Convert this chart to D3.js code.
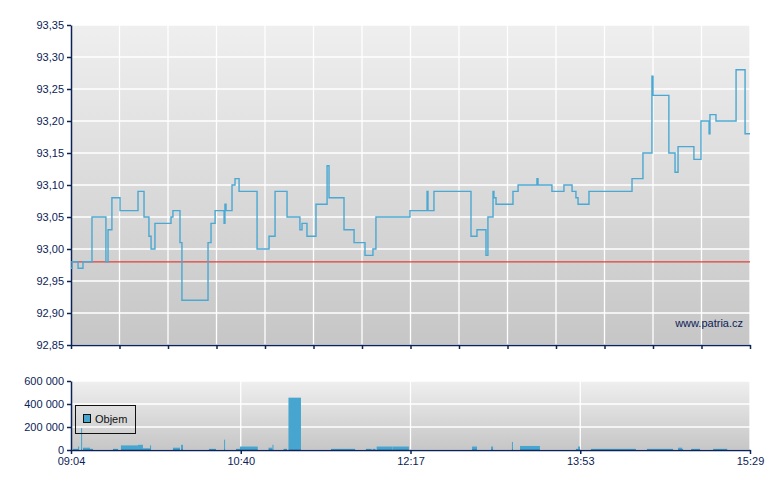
<!DOCTYPE html>
<html><head><meta charset="utf-8">
<script src="https://cdn.jsdelivr.net/npm/d3@7"></script>
<style>body{margin:0;background:#fff}svg{font-family:"Liberation Sans",Arial,sans-serif}</style>
</head><body><svg id="c" width="780" height="490"></svg>
<script>
// minutes after 09:04
const priceMin = [0,0.6,4,6.8,11.9,19.8,21,23.2,27.8,38,41.4,44.2,45.4,47.6,56.7,57.8,61.8,62.9,77.7,79.4,81.7,86.8,87.3,87.9,91.3,93,95.3,105.5,112.3,115.7,122.5,129.8,131,133.8,138.9,145.2,146.3,154.8,160.5,166.7,171.2,172.9,192.2,201.9,202.4,205.8,226.8,230.2,235.3,236.4,239.3,239.8,241,250.6,253.5,264.2,264.8,272.7,279.5,284.1,286.3,287.5,293.7,318.1,324.3,329.4,330,339,342.5,344.2,353.2,357.2,361.8,362.3,365.7,377.1,382.2,385];
const priceVal = [92.97,92.98,92.97,92.98,93.05,92.98,93.03,93.08,93.06,93.09,93.05,93.02,93.00,93.04,93.05,93.06,93.01,92.92,93.01,93.04,93.06,93.04,93.07,93.06,93.10,93.11,93.09,93.00,93.02,93.09,93.05,93.03,93.04,93.02,93.07,93.13,93.08,93.03,93.01,92.99,93.00,93.05,93.06,93.09,93.06,93.09,93.02,93.03,92.99,93.05,93.09,93.08,93.07,93.09,93.10,93.11,93.10,93.09,93.10,93.09,93.08,93.07,93.09,93.11,93.15,93.27,93.24,93.15,93.12,93.16,93.14,93.20,93.18,93.21,93.20,93.28,93.18,93.18];
const refPrice = 92.98;
const volStart = [1.1,4,5.7,6.8,10.8,23.8,28.3,38,40.8,44.8,57.8,62.4,78.2,86.8,93.6,95.8,112,114.2,120.5,123.3,147.4,167.2,171,173.3,182.3,227.4,238.2,250,254.6,286.3,287.5,294.8,326.6,344.2,346.5,351.6,364.1];
const volEnd   = [4,4.6,6.3,10.8,12.5,26.7,38,40.8,44.8,45.4,61.8,63.5,82.2,87.3,95.8,105.9,114.2,114.8,122.5,130.4,161.1,170.5,172.7,182.3,191.6,230.2,239.3,250.6,265.9,287.5,288.6,320.3,341.4,346.5,346.8,356.7,372.1];
const volVal   = [10000,30000,190000,20000,10000,10000,40000,45000,15000,40000,20000,45000,10000,90000,10000,30000,20000,45000,10000,455000,10000,10000,10000,30000,30000,30000,30000,70000,35000,10000,30000,10000,10000,20000,10000,10000,10000];
const priceTicks = [92.85,92.90,92.95,93.00,93.05,93.10,93.15,93.20,93.25,93.30,93.35];
const volTicks = [0,200000,400000,600000];
const timeLabels = ["09:04","10:40","12:17","13:53","15:29"];

const svg = d3.select("#c");
const L=71,R=750,T=25,B=345,VT=381,VB=450;
const navy="#0b2357", lineC="#4aa8d2";
const x = d3.scaleLinear().domain([0,385]).range([L,R]);
const y = d3.scaleLinear().domain([92.85,93.35]).range([B,T]);
const yv = d3.scaleLinear().domain([0,600000]).range([VB,VT]);
const defs = svg.append("defs");
const g = defs.append("linearGradient").attr("id","bg").attr("x1",0).attr("x2",0).attr("y1",0).attr("y2",1);
g.append("stop").attr("offset",0).attr("stop-color","#efefef");
g.append("stop").attr("offset",1).attr("stop-color","#c6c6c6");
svg.append("rect").attr("x",L).attr("y",T).attr("width",R-L).attr("height",B-T).attr("fill","url(#bg)");
svg.append("rect").attr("x",L).attr("y",VT).attr("width",R-L).attr("height",VB-VT).attr("fill","url(#bg)");
const fmt = v=>v.toFixed(2).replace(".",",");
// main grid
const gx = d3.range(15).map(i=>i*385/14);
svg.selectAll(".vg").data(gx).join("line").attr("x1",d=>x(d)).attr("x2",d=>x(d)).attr("y1",T).attr("y2",B).attr("stroke","#fff").attr("stroke-width",1.3);
svg.selectAll(".hg").data(priceTicks).join("line").attr("x1",L).attr("x2",R).attr("y1",d=>y(d)).attr("y2",d=>y(d)).attr("stroke","#fff").attr("stroke-width",1.3);
const ya = svg.append("g").attr("transform",`translate(${L},0)`).call(d3.axisLeft(y).tickValues(priceTicks).tickFormat(fmt).tickSize(4).tickSizeOuter(0));
const xa = svg.append("g").attr("transform",`translate(0,${B})`).call(d3.axisBottom(x).tickValues(gx).tickFormat("").tickSize(4).tickSizeOuter(0));
svg.append("line").attr("x1",L).attr("x2",R).attr("y1",y(refPrice)).attr("y2",y(refPrice)).attr("stroke","#e0403a").attr("stroke-width",1.2);
const pts = priceMin.map((m,i)=>[m,priceVal[i]]);
svg.append("path").datum(pts).attr("fill","none").attr("stroke",lineC).attr("stroke-width",1.4)
  .attr("d",d3.line().x(d=>x(d[0])).y(d=>y(d[1])).curve(d3.curveStepAfter));
svg.append("text").attr("x",743).attr("y",327).attr("text-anchor","end").attr("font-size",11).attr("fill",navy).text("www.patria.cz");
// volume
const tv = d3.range(5).map(i=>i*385/4);
svg.selectAll(".vvg").data(tv).join("line").attr("x1",d=>x(d)).attr("x2",d=>x(d)).attr("y1",VT).attr("y2",VB).attr("stroke","#fff").attr("stroke-width",1.3);
svg.selectAll(".vhg").data(volTicks).join("line").attr("x1",L).attr("x2",R).attr("y1",d=>yv(d)).attr("y2",d=>yv(d)).attr("stroke","#fff").attr("stroke-width",1.3);
svg.selectAll(".bar").data(volVal).join("rect").attr("x",(d,i)=>x(volStart[i])).attr("width",(d,i)=>Math.max(1,x(volEnd[i])-x(volStart[i])))
  .attr("y",d=>yv(d)).attr("height",d=>VB-yv(d)).attr("fill","#47a6d0");
const vfmt = v=>v===0?"0":d3.format(",")(v).replace(/,/g," ");
svg.append("g").attr("transform",`translate(${L},0)`).call(d3.axisLeft(yv).tickValues(volTicks).tickFormat(vfmt).tickSize(4).tickSizeOuter(0));
svg.append("g").attr("transform",`translate(0,${VB})`).call(d3.axisBottom(x).tickValues(tv).tickFormat((d,i)=>timeLabels[i]).tickSize(4).tickSizeOuter(0));
svg.selectAll(".domain, .tick line").attr("stroke",navy).attr("stroke-width",1.5);
svg.selectAll(".tick text").attr("fill",navy).attr("font-size",11).attr("font-family","Liberation Sans, Arial, sans-serif");
// legend
svg.append("rect").attr("x",75.5).attr("y",405.5).attr("width",60).attr("height",28).attr("fill","none").attr("stroke","#111");
svg.append("rect").attr("x",83.5).attr("y",414.5).attr("width",7).attr("height",8).attr("fill","#47a6d0").attr("stroke","#111");
svg.append("text").attr("x",95).attr("y",423).attr("font-size",11).attr("fill","#111").text("Objem");
</script></body></html>
